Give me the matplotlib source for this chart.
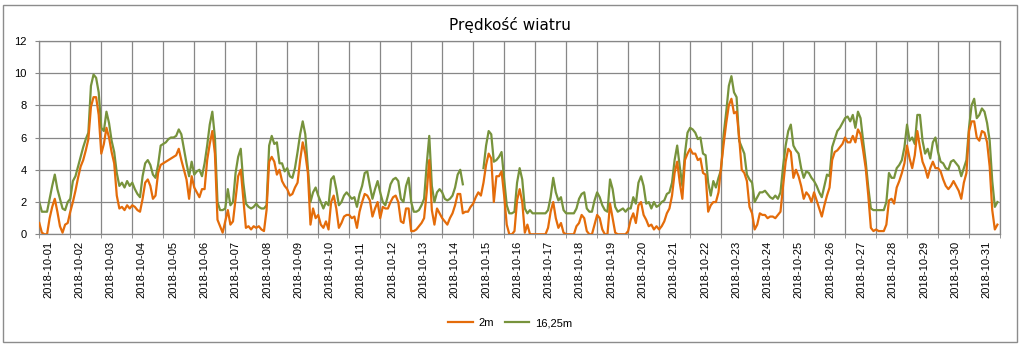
import matplotlib
matplotlib.use('Agg')
import matplotlib.pyplot as plt
from matplotlib.patches import Rectangle
import numpy as np
import pandas as pd

nan = np.nan

# two-hour mean wind speed [m/s], October 2018, one row per day
wind_2m = [
    0.7, 0.1, 0.0, 0.0, 1.0, 1.7, 2.2, 1.4, 0.5, 0.1, 0.6, 0.7,
    1.4, 2.0, 2.7, 3.5, 4.2, 4.6, 5.2, 5.9, 7.9, 8.5, 8.5, 7.4,
    5.0, 5.6, 6.6, 6.0, 5.1, 4.4, 2.4, 1.6, 1.7, 1.5, 1.8, 1.6,
    1.8, 1.7, 1.5, 1.4, 2.2, 3.2, 3.4, 3.0, 2.2, 2.4, 3.8, 4.3,
    4.4, 4.5, 4.6, 4.7, 4.8, 4.9, 5.3, 4.6, 4.0, 3.4, 2.2, 3.6,
    2.9, 2.6, 2.3, 2.8, 2.8, 4.6, 5.6, 6.4, 5.0, 0.9, 0.5, 0.1,
    0.8, 1.5, 0.6, 0.8, 2.2, 3.6, 4.0, 2.2, 0.4, 0.5, 0.3, 0.5,
    0.4, 0.5, 0.3, 0.2, 1.5, 4.5, 4.8, 4.5, 3.7, 4.0, 3.3, 3.0,
    2.8, 2.4, 2.5, 2.9, 3.2, 4.6, 5.7, 5.0, 3.8, 0.6, 1.6, 1.0,
    1.2, 0.6, 0.4, 0.8, 0.3, 2.0, 2.4, 1.6, 0.4, 0.7, 1.1, 1.2,
    1.2, 1.0, 1.1, 0.4, 1.4, 2.0, 2.5, 2.4, 2.1, 1.1, 1.6, 2.0,
    1.0, 1.7, 1.6, 1.6, 2.0, 2.3, 2.4, 2.0, 0.8, 0.7, 1.6, 1.6,
    0.2, 0.2, 0.3, 0.5, 0.7, 1.0, 2.6, 4.6, 1.5, 0.6, 1.6, 1.3,
    1.0, 0.8, 0.6, 1.0, 1.3, 1.8, 2.5, 2.5, 1.3, 1.4, 1.4, 1.7,
    1.9, 2.3, 2.6, 2.4, 3.2, 4.3, 5.0, 4.7, 2.0, 3.6, 3.6, 3.9,
    2.4, 0.6, 0.0, 0.0, 0.2, 2.1, 2.8, 2.0, 0.1, 0.6, 0.0, 0.0,
    0.0, 0.0, 0.0, 0.0, 0.0, 0.4, 1.4, 2.0, 1.0, 0.4, 0.7, 0.1,
    0.0, 0.0, 0.0, 0.0, 0.5, 0.7, 1.2, 1.0, 0.2, 0.0, 0.0, 0.6,
    1.2, 1.0, 0.3, 0.0, 0.0, 1.9, 1.0, 0.1, 0.0, 0.0, 0.0, 0.0,
    0.2, 0.9, 1.3, 0.7, 1.8, 2.0, 1.2, 0.9, 0.5, 0.6, 0.3, 0.5,
    0.3, 0.5, 0.8, 1.3, 1.6, 2.4, 3.8, 4.5, 3.2, 2.2, 4.6, 5.0,
    5.3, 5.0, 5.0, 4.6, 4.7, 3.8, 3.7, 1.4, 1.8, 2.0, 2.0, 2.6,
    4.2, 5.6, 6.9, 8.0, 8.4, 7.5, 7.6, 6.0, 4.0, 3.8, 3.3, 1.7,
    1.3, 0.3, 0.6, 1.3, 1.2, 1.2, 1.0, 1.1, 1.1, 1.0, 1.2, 1.4,
    3.0, 4.5, 5.3, 5.1, 3.5, 4.0, 3.6, 3.0, 2.2, 2.6, 2.4, 2.0,
    2.6, 2.1, 1.6, 1.1, 1.8, 2.4, 2.9, 4.6, 5.1, 5.2, 5.4, 5.6,
    6.0, 5.7, 5.7, 6.1, 5.7, 6.5, 6.2, 5.2, 4.1, 2.4, 0.4, 0.2,
    0.3, 0.2, 0.2, 0.2, 0.6, 2.1, 2.2, 1.9, 2.9, 3.3, 3.8, 4.4,
    5.5, 4.7, 4.1, 4.9, 6.4, 5.4, 4.5, 4.1, 3.5, 4.1, 4.5, 4.1,
    4.1, 3.9, 3.4, 3.0, 2.8, 3.0, 3.3, 3.0, 2.7, 2.2, 3.2, 3.8,
    6.4, 7.0, 7.0, 6.0, 5.8, 6.4, 6.3, 5.7, 4.2, 1.5, 0.3, 0.6,
]

wind_16m = [
    2.0, 1.4, 1.4, 1.4, 2.2, 3.0, 3.7, 2.8, 2.2, 1.6, 1.5, 2.0,
    2.2, 3.3, 3.6, 4.2, 4.8, 5.4, 5.9, 6.3, 9.2, 9.9, 9.7, 8.8,
    6.6, 6.4, 7.6, 6.9, 5.8, 5.1, 3.8, 3.0, 3.2, 2.9, 3.3, 3.0,
    3.2, 2.8, 2.5, 2.3, 3.6, 4.4, 4.6, 4.3, 3.7, 3.5, 4.3, 5.5,
    5.6, 5.7, 5.9, 6.0, 6.0, 6.1, 6.5, 6.2, 5.3, 4.4, 3.6, 4.5,
    3.7, 3.9, 4.0, 3.6, 4.4, 5.5, 6.8, 7.6, 6.0, 2.0, 1.5, 1.5,
    1.6, 2.8, 1.8, 2.0, 3.8, 4.8, 5.3, 3.2, 1.9, 1.7, 1.6, 1.7,
    1.9, 1.7, 1.6, 1.6, 1.8, 5.5, 6.1, 5.6, 5.7, 4.4, 4.4, 3.9,
    4.1, 3.6, 3.5, 4.1, 5.1, 6.2, 7.0, 6.2, 4.1, 2.0, 2.6, 2.9,
    2.4, 2.0, 1.6, 2.0, 1.8, 3.4, 3.6, 2.8, 1.8, 2.0, 2.4, 2.6,
    2.4, 2.2, 2.3, 1.7, 2.5, 3.0, 3.8, 3.9, 3.0, 2.2, 2.8, 3.3,
    2.6, 2.0, 1.8, 2.4, 3.1, 3.4, 3.5, 3.3, 2.2, 2.0, 3.0, 3.5,
    2.0, 1.4, 1.4, 1.5, 1.8, 2.2, 4.3, 6.1, 3.0, 2.0, 2.6, 2.8,
    2.6, 2.2, 2.1, 2.2, 2.4, 2.9, 3.7, 4.0, 3.1, nan, nan, nan,
    nan, nan, nan, nan, 4.1, 5.5, 6.4, 6.2, 4.5, 4.6, 4.8, 5.1,
    3.4, 1.8, 1.3, 1.3, 1.4, 3.2, 4.1, 3.4, 1.6, 1.3, 1.5, 1.3,
    1.3, 1.3, 1.3, 1.3, 1.3, 1.5, 2.3, 3.5, 2.6, 2.1, 2.3, 1.5,
    1.3, 1.3, 1.3, 1.3, 1.6, 2.2, 2.5, 2.6, 1.6, 1.4, 1.4, 2.1,
    2.6, 2.3, 1.8, 1.5, 1.4, 3.4, 2.8, 1.7, 1.4, 1.5, 1.6, 1.4,
    1.6, 1.6, 2.3, 1.9, 3.2, 3.6, 3.0, 1.9, 2.0, 1.6, 2.0, 1.7,
    1.8, 2.0, 2.1, 2.5, 2.6, 3.2, 4.6, 5.5, 4.2, 3.0, 5.0, 6.3,
    6.6, 6.5, 6.3, 5.9, 6.0, 5.0, 4.9, 3.2, 2.4, 3.3, 2.9, 3.5,
    4.0, 6.2, 7.6, 9.2, 9.8, 8.8, 8.5, 5.8, 5.4, 5.0, 3.7, 3.4,
    3.2, 2.0, 2.3, 2.6, 2.6, 2.7, 2.5, 2.3, 2.2, 2.4, 2.2, 2.6,
    4.2, 5.5, 6.4, 6.8, 5.5, 5.2, 5.0, 4.1, 3.5, 3.9, 3.8, 3.5,
    3.3, 3.0, 2.6, 2.3, 3.0, 3.7, 3.6, 5.4, 5.9, 6.4, 6.6, 6.9,
    7.2, 7.3, 7.0, 7.4, 6.6, 7.6, 7.2, 5.8, 4.5, 2.9, 1.6, 1.5,
    1.5, 1.5, 1.5, 1.5, 2.0, 3.8, 3.5, 3.5, 4.1, 4.3, 4.6, 5.4,
    6.8, 5.8, 6.0, 5.6, 7.4, 7.4, 5.8, 5.0, 5.3, 4.7, 5.7, 6.0,
    5.1, 4.5, 4.4, 4.1, 4.0, 4.5, 4.6, 4.4, 4.2, 3.6, 4.1, 4.6,
    6.6, 8.0, 8.4, 7.2, 7.4, 7.8, 7.6, 6.9, 5.8, 3.3, 1.7, 2.0,
]

days = pd.date_range('2018-10-01', '2018-10-31', freq='D')
day_labels = [d.strftime('%Y-%m-%d') for d in days]
y_ticks = [0, 2, 4, 6, 8, 10, 12]

c_2m = '#E46C0A'
c_16m = '#77933C'
grid_c = '#878787'

W, H = 1023, 347
fig = plt.figure(figsize=(W / 100, H / 100), dpi=100)
ax = fig.add_axes([39.3 / W, 1 - 234.3 / H, 960.7 / W, 193.6 / H])

hours = np.arange(len(wind_2m)) * 2
ax.plot(hours, wind_2m, color=c_2m, lw=1.6, label='2m', zorder=3)
ax.plot(hours, wind_16m, color=c_16m, lw=1.6, label='16,25m', zorder=2)

ax.set_xlim(0, 24 * len(days))
ax.set_ylim(0, 12)
ax.set_yticks(y_ticks)
ax.set_yticklabels([str(v) for v in y_ticks], fontsize=8, family='Liberation Sans')
ax.tick_params(axis='y', length=3, color=grid_c, pad=6)

# day boundaries: gridlines + small tick marks, labels sit a bit to the right
ax.set_xticks(np.arange(len(days) + 1) * 24, minor=True)
ax.set_xticks(6.7 + 24.23 * np.arange(len(days)))
ax.set_xticklabels(day_labels, rotation=90, fontsize=8, family='Liberation Sans')
ax.tick_params(axis='x', which='major', length=0, pad=5)
ax.tick_params(axis='x', which='minor', length=3, color=grid_c)
ax.grid(True, which='minor', axis='x', color=grid_c, lw=0.9)
ax.grid(True, which='major', axis='y', color=grid_c, lw=0.9)
ax.set_axisbelow(True)
for s in ax.spines.values():
    s.set_color(grid_c)
    s.set_linewidth(0.9)

fig.text(510 / W, 1 - 25 / H, 'Prędkość wiatru', ha='center', va='center',
         fontsize=11, family='DejaVu Sans')

fig.legend(loc='center', bbox_to_anchor=(510 / W, 1 - 323 / H), ncol=2,
           frameon=False, prop={'family': 'Liberation Sans', 'size': 8},
           handlelength=2.2, handletextpad=0.5, columnspacing=1.0)

fig.patches.append(Rectangle((3 / W, 5 / H), 1014 / W, 337 / H, transform=fig.transFigure,
                             fill=False, edgecolor='#8c8c8c', lw=1))

fig.savefig('out.png', dpi=100)
